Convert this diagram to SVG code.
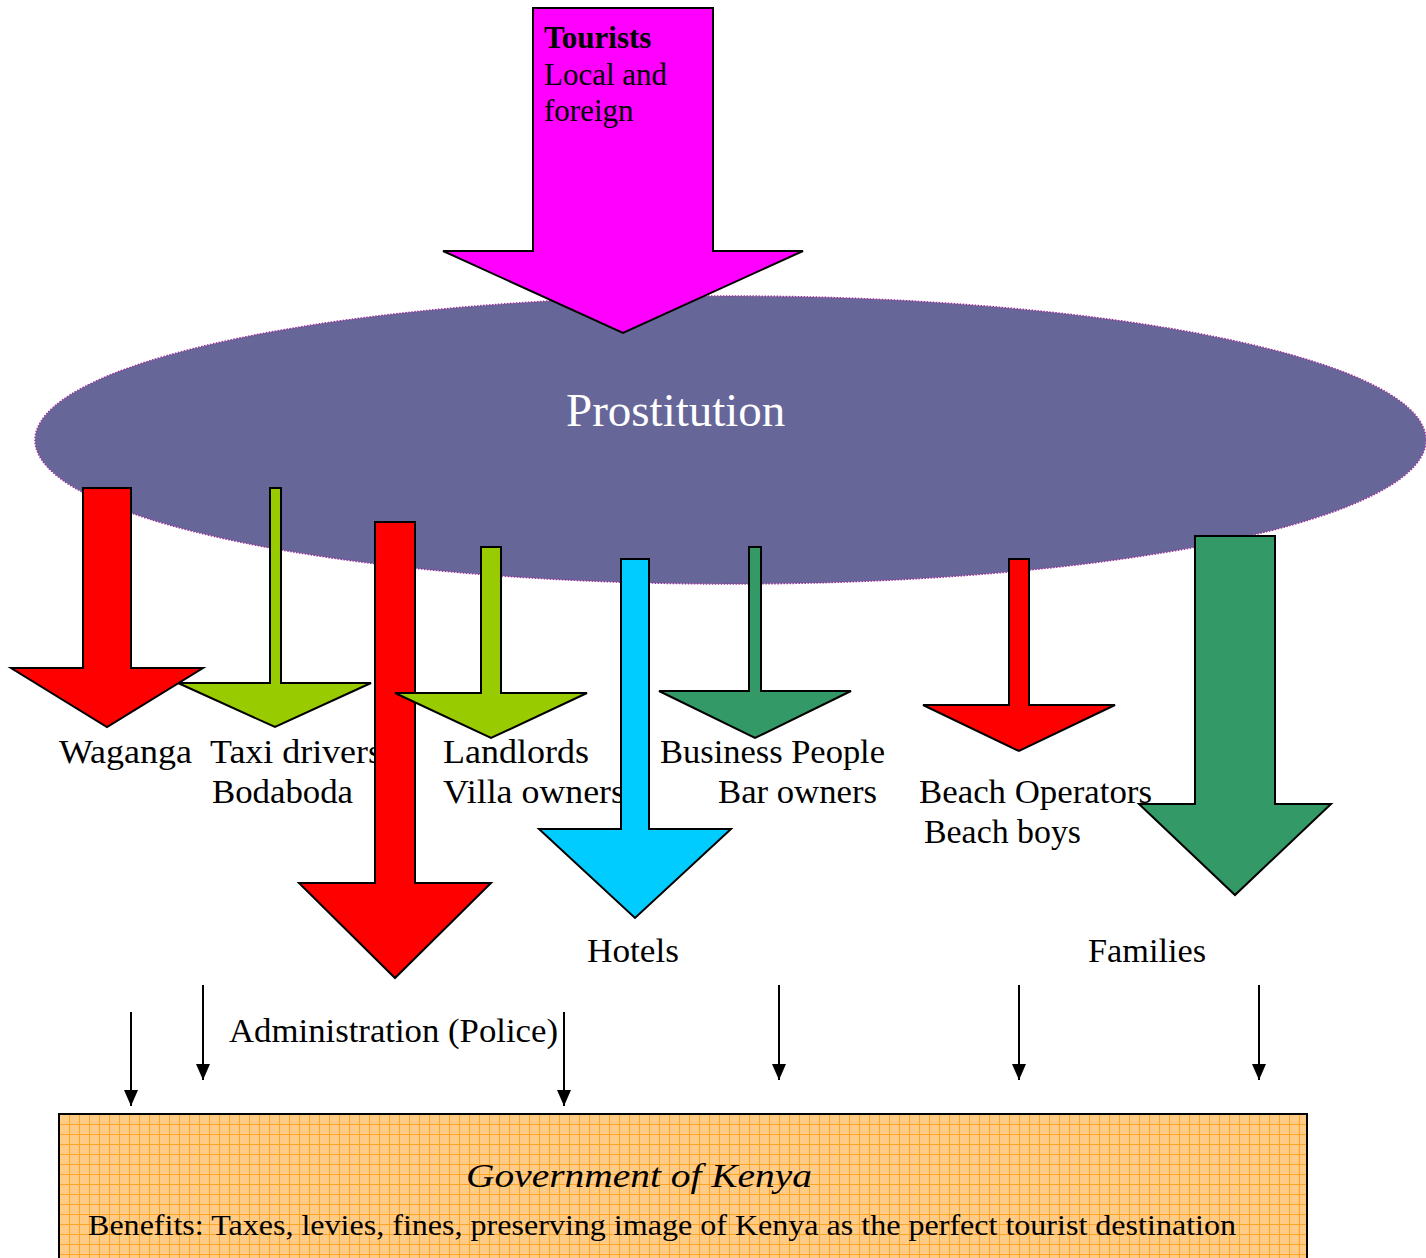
<svg xmlns="http://www.w3.org/2000/svg" width="1426" height="1258" viewBox="0 0 1426 1258">
<defs>
<style>
.arr{stroke:#000;stroke-width:2;stroke-linejoin:miter}
.red{fill:#FF0000}.lime{fill:#99CC00}.dg{fill:#339966}.cyan{fill:#00CCFF}.mag{fill:#FF00FF}
.lbl{font-family:"Liberation Serif","Times New Roman",serif;font-size:33px;fill:#000}
.thin{stroke:#000;stroke-width:2;fill:none}
</style>
<marker id="ah" markerWidth="16" markerHeight="14" refX="16" refY="7" orient="auto" markerUnits="userSpaceOnUse" viewBox="0 0 16 14">
<path d="M0,0 L16,7 L0,14 Z" fill="#000"/>
</marker>
<pattern id="grid" width="10" height="10" patternUnits="userSpaceOnUse" x="59" y="1114">
<rect width="10" height="10" fill="#FFCC88"/>
<path d="M0,0.5 H10 M0.5,0 V10" stroke="#FFA526" stroke-width="1"/>
</pattern>
</defs>
<rect width="1426" height="1258" fill="#fff"/>

<g id="prostitution">
<ellipse cx="730.5" cy="440" rx="695.5" ry="144" fill="#666699" stroke="#993399" stroke-width="1.5" stroke-dasharray="1.5 1.5"/>
<text x="566" y="426" font-family="Liberation Serif, Times New Roman, serif" font-size="47" fill="#fff">Prostitution</text>
</g>

<g id="tourists">
<polygon class="arr mag" points="533,8 713,8 713,251 803,251 623,333 443,251 533,251"/>
<text font-family="Liberation Serif, Times New Roman, serif" font-size="31" fill="#000">
<tspan x="544" y="48" font-weight="bold">Tourists</tspan>
<tspan x="544" y="85">Local and</tspan>
<tspan x="544" y="121">foreign</tspan>
</text>
</g>

<g id="taxi-arrow"><polygon class="arr lime" points="270,488 281,488 281,683 371,683 275,727 178,683 270,683"/></g>
<g id="waganga-arrow"><polygon class="arr red" points="83,488 131,488 131,668 203,668 107,727 11,668 83,668"/></g>

<g id="labels">
<text class="lbl" x="59" y="763" textLength="133" lengthAdjust="spacingAndGlyphs">Waganga</text>
<text class="lbl" x="210" y="763" textLength="172" lengthAdjust="spacingAndGlyphs">Taxi drivers</text>
<text class="lbl" x="212" y="803" textLength="141" lengthAdjust="spacingAndGlyphs">Bodaboda</text>
<text class="lbl" x="443" y="763" textLength="146" lengthAdjust="spacingAndGlyphs">Landlords</text>
<text class="lbl" x="443" y="803" textLength="182" lengthAdjust="spacingAndGlyphs">Villa owners</text>
<text class="lbl" x="660" y="763" textLength="225" lengthAdjust="spacingAndGlyphs">Business People</text>
<text class="lbl" x="718" y="803" textLength="159" lengthAdjust="spacingAndGlyphs">Bar owners</text>
<text class="lbl" x="919" y="803" textLength="233" lengthAdjust="spacingAndGlyphs">Beach Operators</text>
<text class="lbl" x="924" y="843" textLength="157" lengthAdjust="spacingAndGlyphs">Beach boys</text>
<text class="lbl" x="587" y="962" textLength="92" lengthAdjust="spacingAndGlyphs">Hotels</text>
<text class="lbl" x="1088" y="962" textLength="118" lengthAdjust="spacingAndGlyphs">Families</text>
<text class="lbl" x="229" y="1042" textLength="329" lengthAdjust="spacingAndGlyphs">Administration (Police)</text>
</g>

<g id="admin-arrow"><polygon class="arr red" points="375,522 415,522 415,883 491,883 395,978 299,883 375,883"/></g>
<g id="landlords-arrow"><polygon class="arr lime" points="481,547 501,547 501,693 587,693 491,738 395,693 481,693"/></g>
<g id="hotels-arrow"><polygon class="arr cyan" points="621,559 649,559 649,829 731,829 635,918 539,829 621,829"/></g>
<g id="business-arrow"><polygon class="arr dg" points="749,547 761,547 761,691 851,691 755,738 659,691 749,691"/></g>
<g id="beach-arrow"><polygon class="arr red" points="1009,559 1029,559 1029,705 1115,705 1019,751 923,705 1009,705"/></g>
<g id="families-arrow"><polygon class="arr dg" points="1195,536 1275,536 1275,804 1331,804 1235,895 1139,804 1195,804"/></g>

<g id="connectors">
<line class="thin" x1="131" y1="1012" x2="131" y2="1106" marker-end="url(#ah)"/>
<line class="thin" x1="203" y1="985" x2="203" y2="1080" marker-end="url(#ah)"/>
<line class="thin" x1="564" y1="1012" x2="564" y2="1106" marker-end="url(#ah)"/>
<line class="thin" x1="779" y1="985" x2="779" y2="1080" marker-end="url(#ah)"/>
<line class="thin" x1="1019" y1="985" x2="1019" y2="1080" marker-end="url(#ah)"/>
<line class="thin" x1="1259" y1="985" x2="1259" y2="1080" marker-end="url(#ah)"/>
</g>

<g id="government">
<rect x="59" y="1114" width="1248" height="150" fill="url(#grid)" stroke="#000" stroke-width="2"/>
<text x="466" y="1187" font-family="Liberation Serif, Times New Roman, serif" font-style="italic" font-size="33" textLength="346" lengthAdjust="spacingAndGlyphs" fill="#000">Government of Kenya</text>
<text x="88" y="1235" font-family="Liberation Serif, Times New Roman, serif" font-size="30" textLength="1148" lengthAdjust="spacingAndGlyphs" fill="#000">Benefits: Taxes, levies, fines, preserving image of Kenya as the perfect tourist destination</text>
</g>
</svg>
